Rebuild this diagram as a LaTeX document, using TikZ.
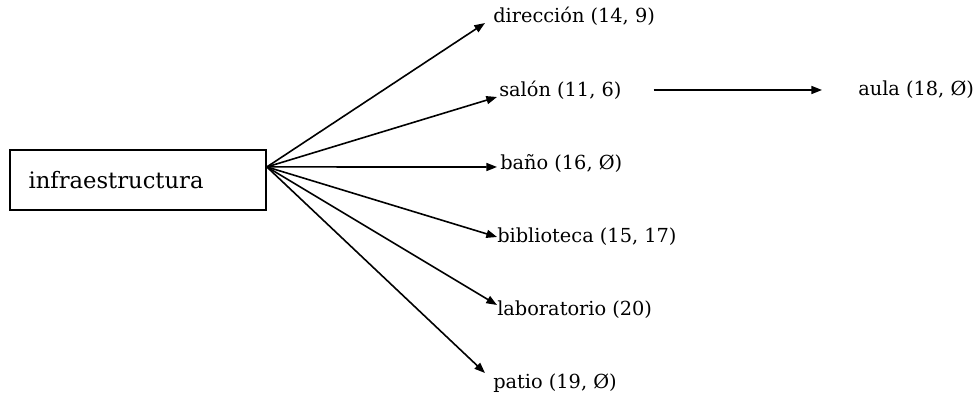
\documentclass[tikz,border=0pt]{standalone}
\usepackage{fontspec}
\setmainfont{DejaVu Serif}
\usetikzlibrary{arrows.meta}

\begin{document}
\begin{tikzpicture}[x=0.75pt,y=-0.75pt]
\tikzstyle{lbl}=[anchor=west,inner sep=0pt,font=\fontsize{14.5}{16}\selectfont]
\tikzstyle{link}=[line width=1.2pt,-{Triangle[length=8pt,width=6pt]}]
\useasboundingbox (0,0) rectangle (980,398);
\node[draw,line width=1.4pt,anchor=north west,minimum width=192pt,minimum height=45pt,text width=164pt,inner xsep=14pt,align=left,font=\fontsize{17}{20}\selectfont] (infra) at (9,149) {infraestructura};
\coordinate (hub) at ([shift={(0,-13)}]infra.east);
\node[lbl] (dir) at (493,16) {dirección (14, 9)};
\node[lbl] (sal) at (499,90) {salón (11, 6)};
\node[lbl] (ban) at (500,163) {baño (16, Ø)};
\node[lbl] (bib) at (497,237) {biblioteca (15, 17)};
\node[lbl] (lab) at (497,310) {laboratorio (20)};
\node[lbl] (pat) at (493,383) {patio (19, Ø)};
\node[lbl] (aula) at (858,90) {aula (18, Ø)};
\draw[link] (hub) -- ([shift={(-8,7)}]dir.west);
\draw[link] (hub) -- ([shift={(-2,7)}]sal.west);
\draw[link] (hub) -- ([shift={(-3,4)}]ban.west);
\draw[link] (hub) -- (bib.west);
\draw[link] (hub) -- ([shift={(0,-5)}]lab.west);
\draw[link] (hub) -- ([shift={(-8,-10)}]pat.west);
\draw[link] ([xshift=24pt]sal.east) -- ([xshift=-27pt]aula.west);
\end{tikzpicture}
\end{document}
